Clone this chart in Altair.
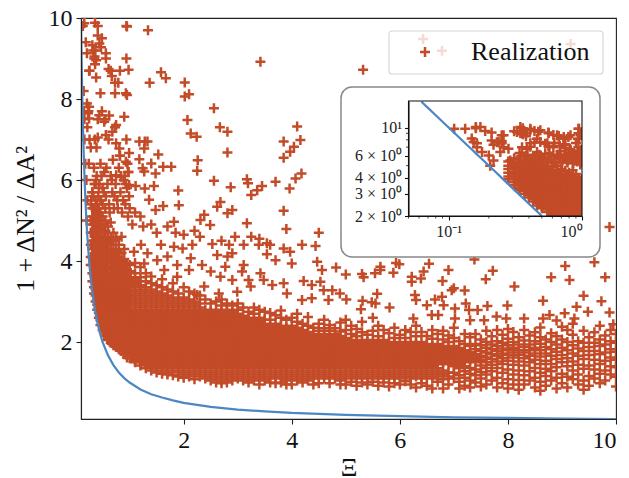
import altair as alt
import pandas as pd

ORANGE = "#C34B28"
BLUE = "#4C87C4"
FONT = "Liberation Serif"
PLUS = "M-1,0L1,0M0,-1L0,1"

curve_x = [0.0625, 0.07, 0.08, 0.09, 0.1, 0.11, 0.12, 0.13, 0.14, 0.15, 0.16, 0.18, 0.2, 0.22, 0.25, 0.28, 0.3, 0.35, 0.4, 0.45, 0.5, 0.6, 0.7, 0.8, 0.9, 1, 1.2, 1.4, 1.6, 1.8, 2, 2.5, 3, 3.5, 4, 5, 6, 7, 8, 9, 10]
curve_y = [16, 14.3, 12.5, 11.1, 10, 9.09, 8.33, 7.69, 7.14, 6.67, 6.25, 5.56, 5, 4.55, 4, 3.57, 3.33, 2.86, 2.5, 2.22, 2, 1.67, 1.43, 1.25, 1.11, 1, 0.83, 0.71, 0.63, 0.56, 0.5, 0.4, 0.33, 0.29, 0.25, 0.2, 0.17, 0.14, 0.13, 0.11, 0.1]

sparse_x = [.16,.36,.95,1.34,.41,.31,.44,.47,.56,.21,.35,.38,.36,.25,.61,.98,.67,.38,.79,1.37,1.58,1.67,2.02,2.02,2.10,3.42,.46,.73,.93,.95,.21,.25,.23,.44,.62,.90,2.56,2.07,2.67,2.81,4.10,2.13,2.24,3.85,4.16,4.04,3.97,3.85,2.81,.75,.53,.25,.68,.56,.41,.75,.81,.99,1.18,1.28,1.33,1.27,1.53,1.18,1.40,.93,1.24,1.62,1.77,2.26,2.25,1.48,1.27,.75,.84,.99,1.11,1.45,1.28,2.56,3.17,3.19,2.87,3.45,3.36,3.25,3.70,3.96,4.07,4.18,1.90,1.36,1.91,1.48,1.62,2.68,2.62,2.90,2.81,2.38,2.31,2.49,3.17,3.85,3.90,1.82,
5.32,6.43,6.78,9.16,9.88,
4.82,5.0,5.3,5.33,5.54,5.64,5.64,5.88,5.99,6.22,6.22,6.39,6.44,6.54,6.79,6.9,7.38,7.59,7.72,8.12,8.8,9.14,9.06,9.6,9.8,4.75,4.89,5.01,5.31,5.48,5.58,5.55,5.28,5.81,6.28,6.3,6.5,6.65,6.78,6.81,6.96,7.0,7.2,7.02,7.22,7.28,7.44,7.62,7.99,8.65,9.27,9.4,9.73,9.88,9.05,9.23,9.48,8.77,8.3,8.65,6.59,6.71,6.25,7.02,7.3,7.56,7.79,7.97,8.9,9.95,9.7,
4.19,4.44,4.47,4.56,4.0,3.85,3.97,3.7,3.54,3.39,3.54,3.11,2.84,2.9,2.53,2.62,2.81,2.77,3.11,3.08,3.42,3.48,2.5,2.34,2.13,2.1,1.88,1.7,1.82,1.98,2.16,1.58,1.33,1.27,1.08,1.21,1.51,1.64,1.88,2.68,2.9,3.2,3.24,3.64,3.85,3.91,2.99,4.22,4.37,4.53,4.59,4.19,4.37,4.68,2.65,2.38,2.25,
1.0,1.1,1.2,1.05,1.25,1.4,1.5,1.7,1.85,2.0,2.2,2.3,2.7,2.95,3.25,3.4,3.6,4.5,5.0,5.3,5.6,5.93,
.11,.133,.16,.173,.188,.149,.163,.154,.163,.178,.258,.237,.217,.258,.281,.244,.2,.217,.205,.345,.326,.345,.365,.41,.487,.562,.65,.73,.82,.94,.94,.355,.41,.487,.55,.46,.387,.61,.73,.94,.82,.97,
.29,.31,.33,.35,.37,.39,.42,.44,.47,.5,.53,.56,.59,.62,.65,.68,.71,.74,.77,.8,.83,.86,.89,.92,.95,.98,.34,.38,.43,.48,.52,.57,.63,.67,.72,.78,.84,.88,.93,.97,.99,.96,.91,.82,.69]
sparse_y = [9.87,9.88,9.79,9.70,9.57,9.33,9.37,9.28,9.13,9.13,9.05,8.96,8.86,8.70,8.74,8.72,8.57,8.53,8.40,8.40,8.66,8.51,8.41,8.06,8.12,8.92,8.14,8.14,8.14,8.10,7.89,7.81,7.65,7.60,7.59,7.56,7.77,7.48,7.30,7.19,7.32,7.15,7.07,6.95,6.99,6.82,6.70,6.55,6.68,7.36,7.44,7.52,7.19,7.11,7.05,6.91,6.78,6.67,6.95,6.95,6.95,6.78,6.63,6.51,6.41,6.45,6.29,6.33,6.33,6.49,6.23,6.16,6.21,6.12,6.08,5.88,5.85,5.85,5.79,5.98,6.02,5.92,5.82,5.85,5.75,5.63,5.96,5.79,6.04,6.16,5.74,5.51,5.38,5.26,5.36,5.46,5.34,5.26,5.18,5.14,5.01,4.89,4.93,5.24,4.79,4.97,
8.72,9.48,9.19,9.36,4.84,
3.84,3.67,3.68,3.60,3.70,3.86,3.78,3.71,3.92,3.61,3.49,3.57,3.74,3.93,3.51,3.78,4.04,3.55,3.76,3.37,3.6,3.53,3.88,3.97,3.6,3.28,3.2,3.05,3.02,2.98,3.19,2.95,2.81,2.85,3.16,3.04,2.91,3.05,3.12,2.91,3.28,3.33,3.27,2.83,2.95,2.79,2.79,2.89,2.9,3.02,2.87,3.14,3.01,2.73,2.71,2.58,2.75,2.67,2.58,2.58,2.67,2.67,2.58,2.58,2.54,2.54,2.63,2.58,2.53,2.44,2.4,
4.4,4.37,3.98,3.78,3.94,4.31,4.23,4.02,4.17,4.4,4.44,4.4,4.4,4.19,4.42,4.15,4.11,3.86,3.9,3.74,3.7,3.53,3.74,3.9,4.07,3.78,3.61,4.11,4.35,4.31,4.4,4.4,4.19,3.94,4.23,4.4,4.02,3.78,3.9,3.61,3.53,3.53,3.37,3.41,3.45,3.2,3.24,3.51,3.41,3.49,3.28,3.04,3.08,3.04,3.2,3.37,3.16,
5.3,5.2,5.1,4.9,4.85,4.9,4.7,4.85,4.7,4.65,4.75,4.6,4.5,4.6,4.6,4.55,4.4,4.7,4.65,4.45,4.5,3.95,
9.8,9.8,10.1,10.1,9.4,8.2,7.5,7.7,7.0,6.4,8.7,7.7,7.3,7.0,6.8,6.4,6.0,5.5,5.0,10.1,9.2,9.0,9.2,9.8,9.5,9.0,8.7,8.4,8.7,9.8,9.0,7.0,7.5,7.7,7.5,6.4,6.8,7.0,7.3,7.0,6.6,6.2,
5.5,5.7,5.6,5.9,5.5,6.1,5.6,5.9,5.5,5.8,6.2,5.6,5.9,5.4,6.1,5.7,5.3,5.9,5.5,6.3,5.7,5.2,6.0,5.4,5.8,6.2,6.3,6.0,5.8,6.1,5.7,6.3,5.2,6.0,5.6,5.3,6.1,5.5,5.9,5.1,5.6,6.4,6.1,6.6,6.5]

left_x = [.28, .31, .34, .37, .40, .43, .46, .50, .55, .60, .65, .70, .75, .80, .85, .90, .95]
left_y = [
 [3.9,4.1,4.4,4.7,5.0,5.4],
 [3.5,3.7,3.9,4.1,4.3,4.5,4.7,4.9,5.1,5.3,5.7],
 [3.2,3.35,3.5,3.65,3.8,3.95,4.1,4.3,4.5,4.7,4.9,5.1,5.3],
 [3.0,3.15,3.3,3.45,3.6,3.75,3.9,4.05,4.2,4.4,4.6,4.8,5.0,5.25,5.9],
 [2.8,2.92,3.05,3.18,3.3,3.43,3.55,3.7,3.85,4.0,4.15,4.3,4.45,4.6,4.8,5.0,5.2,5.4],
 [2.6,2.72,2.85,2.98,3.1,3.22,3.35,3.48,3.6,3.75,3.9,4.05,4.2,4.35,4.5,4.7,4.9,5.1,5.3],
 [2.42,2.54,2.66,2.78,2.9,3.02,3.14,3.26,3.4,3.55,3.7,3.85,4.0,4.15,4.3,4.45,4.6,4.8,5.0,5.2,5.5],
 [2.3,2.4,2.5,2.6,2.7,2.82,2.94,3.06,3.18,3.3,3.45,3.6,3.75,3.9,4.05,4.2,4.35,4.5,4.7,4.9,5.1,5.4],
 [2.15,2.25,2.35,2.45,2.55,2.65,2.75,2.85,2.95,3.05,3.15,3.25,3.35,3.45,3.55,3.65,3.8,3.95,4.1,4.25,4.4,4.55,4.75,5.0,5.3],
 [2.05,2.1,2.2,2.3,2.4,2.5,2.6,2.7,2.8,2.9,3.0,3.1,3.2,3.3,3.4,3.5,3.6,3.7,3.85,4.0,4.15,4.3,4.45,4.6,4.85],
 [1.98,2.05,2.15,2.25,2.35,2.45,2.55,2.65,2.75,2.85,2.95,3.05,3.15,3.25,3.35,3.45,3.55,3.65,3.8,3.95,4.1,4.25,4.4,4.55,4.95],
 [1.92,2.0,2.1,2.2,2.3,2.4,2.5,2.6,2.7,2.8,2.9,3.0,3.1,3.2,3.3,3.4,3.5,3.6,3.7,3.85,4.0,4.15,4.3,4.5,4.7],
 [1.88,1.95,2.05,2.15,2.25,2.35,2.45,2.55,2.65,2.75,2.85,2.95,3.05,3.15,3.25,3.35,3.45,3.55,3.65,3.8,3.95,4.1,4.25,4.55],
 [1.82,1.9,2.0,2.1,2.2,2.3,2.4,2.5,2.6,2.7,2.8,2.9,3.0,3.1,3.2,3.3,3.4,3.5,3.6,3.75,3.9,4.05,4.2,4.4],
 [1.78,1.85,1.95,2.05,2.15,2.25,2.35,2.45,2.55,2.65,2.75,2.85,2.95,3.05,3.15,3.25,3.35,3.45,3.55,3.7,3.85,4.0,4.2,4.6],
 [1.7,1.8,1.9,2.0,2.1,2.2,2.3,2.4,2.5,2.6,2.7,2.8,2.9,3.0,3.1,3.2,3.3,3.4,3.5,3.6,3.75,3.9,4.05,4.3],
 [1.62,1.75,1.85,1.95,2.05,2.15,2.25,2.35,2.45,2.55,2.65,2.75,2.85,2.95,3.05,3.15,3.25,3.35,3.45,3.55,3.66,3.8,3.95],
]

core_x = [1.0,1.1,1.2,1.3,1.4,1.5,1.6,1.7,1.8,1.9,2.0,2.1,2.2,2.3,2.4,2.5,2.6,2.7,2.8,2.9,3.0,3.1,3.2,3.3,3.4,3.5,3.6,3.7,3.8,3.9,4.0,4.1,4.2,4.3,4.4,4.5,4.6,4.7,4.8,4.9]
core_y = [
 [1.6,1.7,1.8,1.9,2.0,2.1,2.2,2.3,2.4,2.5,2.6,2.7,2.8,2.9,3.0,3.1,3.2,3.3,3.4,3.5,3.6,3.75,3.9],
 [1.5,1.55,1.65,1.75,1.85,1.95,2.05,2.15,2.25,2.35,2.45,2.55,2.65,2.75,2.85,2.95,3.05,3.15,3.25,3.35,3.45,3.55,3.7,3.95],
 [1.42,1.5,1.6,1.7,1.8,1.9,2.0,2.1,2.2,2.3,2.4,2.5,2.6,2.7,2.8,2.9,3.0,3.1,3.2,3.3,3.4,3.5,3.6,3.85],
 [1.35,1.45,1.55,1.65,1.75,1.85,1.95,2.05,2.15,2.25,2.35,2.45,2.55,2.65,2.75,2.85,2.95,3.05,3.15,3.25,3.35,3.5,3.7],
 [1.3,1.4,1.5,1.6,1.7,1.8,1.9,2.0,2.1,2.2,2.3,2.4,2.5,2.6,2.7,2.8,2.9,3.0,3.1,3.2,3.3,3.45,3.62],
 [1.25,1.35,1.45,1.55,1.65,1.75,1.85,1.95,2.05,2.15,2.25,2.35,2.45,2.55,2.65,2.75,2.85,2.95,3.05,3.15,3.25,3.4],
 [1.22,1.3,1.4,1.5,1.6,1.7,1.8,1.9,2.0,2.1,2.2,2.3,2.4,2.5,2.6,2.7,2.8,2.9,3.0,3.1,3.2,3.35,3.55],
 [1.2,1.25,1.35,1.45,1.55,1.65,1.75,1.85,1.95,2.05,2.15,2.25,2.35,2.45,2.55,2.65,2.75,2.85,2.95,3.05,3.15,3.3],
 [1.18,1.3,1.4,1.5,1.6,1.7,1.8,1.9,2.0,2.1,2.2,2.3,2.4,2.5,2.6,2.7,2.8,2.9,3.0,3.1,3.25,3.45],
 [1.15,1.25,1.35,1.45,1.55,1.65,1.75,1.85,1.95,2.05,2.15,2.25,2.35,2.45,2.55,2.65,2.75,2.85,2.95,3.05,3.2],
 [1.12,1.2,1.3,1.4,1.5,1.6,1.7,1.8,1.9,2.0,2.1,2.2,2.3,2.4,2.5,2.6,2.7,2.8,2.9,3.0,3.1,3.35],
 [1.15,1.25,1.35,1.45,1.55,1.65,1.75,1.85,1.95,2.05,2.15,2.25,2.35,2.45,2.55,2.65,2.75,2.85,2.95,3.05,3.25],
 [1.08,1.2,1.3,1.4,1.5,1.6,1.7,1.8,1.9,2.0,2.1,2.2,2.3,2.4,2.5,2.6,2.7,2.8,2.9,3.0,3.2],
 [1.15,1.25,1.35,1.45,1.55,1.65,1.75,1.85,1.95,2.05,2.15,2.25,2.35,2.45,2.55,2.65,2.75,2.85,2.95,3.15],
 [1.1,1.2,1.3,1.4,1.5,1.6,1.7,1.8,1.9,2.0,2.1,2.2,2.3,2.4,2.5,2.6,2.7,2.8,3.05],
 [1.05,1.15,1.25,1.35,1.45,1.55,1.65,1.75,1.85,1.95,2.05,2.15,2.25,2.35,2.45,2.55,2.65,2.75,2.95],
 [1.0,1.1,1.2,1.3,1.4,1.5,1.6,1.7,1.8,1.9,2.0,2.1,2.2,2.3,2.4,2.5,2.6,2.7,2.8,3.0],
 [0.98,1.05,1.15,1.25,1.35,1.45,1.55,1.65,1.75,1.85,1.95,2.05,2.15,2.25,2.35,2.45,2.55,2.65,2.75,2.9,3.05],
 [1.0,1.1,1.2,1.3,1.4,1.5,1.6,1.7,1.8,1.9,2.0,2.1,2.2,2.3,2.4,2.5,2.6,2.7,2.8,2.95],
 [1.05,1.15,1.25,1.35,1.45,1.55,1.65,1.75,1.85,1.95,2.05,2.15,2.25,2.35,2.45,2.55,2.65,2.75,2.9],
 [1.1,1.2,1.3,1.4,1.5,1.6,1.7,1.8,1.9,2.0,2.1,2.2,2.3,2.4,2.5,2.6,2.7,2.8,2.95],
 [1.05,1.15,1.25,1.35,1.45,1.55,1.65,1.75,1.85,1.95,2.05,2.15,2.25,2.35,2.45,2.55,2.65,2.85],
 [1.0,1.1,1.2,1.3,1.4,1.5,1.6,1.7,1.8,1.9,2.0,2.1,2.2,2.3,2.4,2.5,2.6,2.75],
 [1.05,1.15,1.25,1.35,1.45,1.55,1.65,1.75,1.85,1.95,2.05,2.15,2.25,2.35,2.45,2.55,2.7,2.85],
 [0.95,1.1,1.2,1.3,1.4,1.5,1.6,1.7,1.8,1.9,2.0,2.1,2.2,2.3,2.4,2.5,2.6,2.8],
 [1.05,1.15,1.25,1.35,1.45,1.55,1.65,1.75,1.85,1.95,2.05,2.15,2.25,2.35,2.45,2.55,2.75],
 [1.0,1.1,1.2,1.3,1.4,1.5,1.6,1.7,1.8,1.9,2.0,2.1,2.2,2.3,2.4,2.55,2.72],
 [0.98,1.15,1.25,1.35,1.45,1.55,1.65,1.75,1.85,1.95,2.05,2.15,2.25,2.35,2.45,2.66],
 [1.0,1.1,1.2,1.3,1.4,1.5,1.6,1.7,1.8,1.9,2.0,2.1,2.2,2.3,2.4,2.6,2.78],
 [0.95,1.05,1.15,1.25,1.35,1.45,1.55,1.65,1.75,1.85,1.95,2.05,2.15,2.25,2.35,2.55],
 [0.95,1.1,1.2,1.3,1.4,1.5,1.6,1.7,1.8,1.9,2.0,2.1,2.2,2.3,2.4,2.6],
 [1.05,1.15,1.25,1.35,1.45,1.55,1.65,1.75,1.85,1.95,2.05,2.15,2.25,2.35,2.5,2.7],
 [1.0,1.1,1.2,1.3,1.4,1.5,1.6,1.7,1.8,1.9,2.0,2.1,2.2,2.3,2.45],
 [1.05,1.15,1.25,1.35,1.45,1.55,1.65,1.75,1.85,1.95,2.05,2.15,2.25,2.4,2.62],
 [0.95,1.1,1.2,1.3,1.4,1.5,1.6,1.7,1.8,1.9,2.0,2.1,2.2,2.35],
 [0.98,1.15,1.25,1.35,1.45,1.55,1.65,1.75,1.85,1.95,2.05,2.15,2.28,2.45],
 [1.1,1.2,1.3,1.4,1.5,1.6,1.7,1.8,1.9,2.0,2.1,2.2,2.34,2.55],
 [0.98,1.15,1.25,1.35,1.45,1.55,1.65,1.75,1.85,1.95,2.05,2.15,2.28,2.42],
 [1.1,1.2,1.3,1.4,1.5,1.6,1.7,1.8,1.9,2.0,2.1,2.2,2.34],
 [0.95,1.05,1.15,1.25,1.35,1.45,1.55,1.65,1.75,1.85,1.95,2.05,2.15,2.26,2.48],
]

tail_x = [5.0,5.1,5.2,5.3,5.4,5.5,5.6,5.7,5.8,5.9,6.0,6.1,6.2,6.3,6.4,6.5,6.6,6.7,6.8,6.9,7.0,7.1,7.2,7.3,7.4,7.5,7.6,7.7,7.8,7.9,8.0,8.1,8.2,8.3,8.4,8.5,8.6,8.7,8.8,8.9,9.0,9.1,9.2,9.3,9.4,9.5,9.6,9.7,9.8,9.9,10.0]
tail_y = [
 [0.95,1.1,1.2,1.3,1.4,1.5,1.6,1.7,1.8,1.9,2.0,2.1,2.3,2.55],
 [1.02,1.15,1.25,1.35,1.45,1.55,1.65,1.75,1.85,1.95,2.05,2.2,2.4],
 [0.92,1.1,1.2,1.3,1.4,1.5,1.6,1.7,1.8,1.9,2.0,2.14,2.32],
 [1.0,1.15,1.25,1.35,1.45,1.55,1.65,1.75,1.85,1.95,2.05,2.24,2.5],
 [0.95,1.1,1.2,1.3,1.4,1.5,1.6,1.7,1.8,1.9,2.0,2.18],
 [1.02,1.15,1.25,1.35,1.45,1.55,1.65,1.75,1.85,1.95,2.05,2.28,2.6],
 [0.92,1.1,1.2,1.3,1.4,1.5,1.6,1.7,1.8,1.9,2.0,2.14,2.4],
 [1.0,1.15,1.25,1.35,1.45,1.55,1.65,1.75,1.85,1.95,2.05,2.3],
 [0.9,1.1,1.2,1.3,1.4,1.5,1.6,1.7,1.8,1.9,2.0,2.22],
 [0.98,1.15,1.25,1.35,1.45,1.55,1.65,1.75,1.85,1.95,2.1,2.35],
 [0.95,1.1,1.2,1.3,1.4,1.5,1.6,1.7,1.8,1.9,2.0,2.18],
 [1.03,1.15,1.25,1.35,1.45,1.55,1.65,1.75,1.85,1.95,2.1,2.3],
 [0.95,1.1,1.2,1.3,1.4,1.5,1.6,1.7,1.8,1.9,2.0,2.25],
 [0.88,1.15,1.25,1.35,1.45,1.55,1.65,1.75,1.85,1.95,2.14,2.4],
 [0.98,1.1,1.2,1.3,1.4,1.5,1.6,1.7,1.8,1.9,2.0,2.25],
 [0.92,1.15,1.25,1.35,1.45,1.55,1.65,1.75,1.85,1.95,2.15],
 [0.85,1.1,1.2,1.3,1.4,1.5,1.6,1.7,1.8,1.9,2.08,2.3],
 [1.02,1.15,1.25,1.35,1.45,1.55,1.65,1.75,1.85,1.95,2.2],
 [0.85,1.08,1.2,1.3,1.5,1.6,1.7,1.8,1.9,2.06,2.28],
 [0.95,1.15,1.25,1.45,1.55,1.65,1.75,1.85,2.0,2.16],
 [1.1,1.24,1.4,1.5,1.6,1.7,1.8,1.9,2.1,2.35],
 [0.85,1.02,1.18,1.35,1.45,1.55,1.65,1.75,1.85,2.02],
 [0.92,1.12,1.28,1.4,1.5,1.6,1.7,1.8,1.95,2.2],
 [0.88,1.05,1.22,1.36,1.55,1.65,1.75,1.9,2.12],
 [1.0,1.18,1.32,1.5,1.6,1.7,1.82,1.95,2.2],
 [0.9,1.1,1.26,1.42,1.55,1.66,1.78,1.92,2.06],
 [0.95,1.2,1.36,1.5,1.62,1.74,1.86,2.0,2.28],
 [1.05,1.28,1.44,1.58,1.7,1.82,1.94,2.14],
 [0.88,1.12,1.36,1.52,1.66,1.78,1.9,2.02,2.3],
 [0.98,1.24,1.46,1.6,1.72,1.84,1.98,2.18],
 [0.85,1.08,1.32,1.54,1.68,1.8,1.92,2.08,2.32],
 [0.95,1.2,1.44,1.62,1.74,1.86,2.0,2.25],
 [0.82,1.06,1.3,1.52,1.68,1.8,1.94,2.12],
 [0.95,1.18,1.42,1.6,1.74,1.88,2.04,2.3],
 [1.05,1.28,1.5,1.66,1.8,1.94,2.16],
 [0.88,1.12,1.36,1.56,1.72,1.86,2.02,2.24],
 [0.8,1.02,1.24,1.46,1.64,1.8,1.96,2.12,2.36],
 [0.92,1.16,1.34,1.54,1.72,1.88,2.06],
 [1.05,1.28,1.46,1.66,1.82,2.0,2.22],
 [0.85,1.12,1.38,1.58,1.76,1.94,2.14],
 [0.98,1.22,1.5,1.68,1.86,2.06,2.38],
 [0.88,1.14,1.4,1.6,1.8,2.0,2.3],
 [1.08,1.3,1.52,1.72,1.92,2.18,2.45],
 [0.95,1.2,1.44,1.66,1.84,2.02],
 [0.82,1.05,1.34,1.58,1.78,1.98,2.28],
 [0.92,1.16,1.42,1.68,1.88,2.12],
 [1.1,1.32,1.56,1.78,1.98,2.24],
 [0.98,1.22,1.46,1.7,1.9,2.06],
 [1.05,1.3,1.54,1.74,1.94,2.16],
 [1.2,1.4,1.62,1.82,2.02,2.3],
 [0.9,1.14,1.38,1.56,1.76,1.98,2.2],
]

inset_y_minor = [5, 7, 8, 9]
inset_x_minor = [0.05, 0.06, 0.07, 0.08, 0.09, 0.2, 0.3, 0.4, 0.5, 0.6, 0.7, 0.8, 0.9]

rows = list(zip(sparse_x, sparse_y))
for xs, ys in ((left_x, left_y), (core_x, core_y), (tail_x, tail_y)):
    for cx, col in zip(xs, ys):
        rows += [(cx, v) for v in col]
pts = pd.DataFrame(rows, columns=["x", "y"])
curve = pd.DataFrame({"x": curve_x, "y": curve_y})

W, H = 535, 401
ax_common = dict(labelFont=FONT, titleFont=FONT, labelFontSize=24, titleFontSize=26,
                 titleFontWeight="normal", labelColor="#111", titleColor="#111",
                 domainColor="#222", tickColor="#222", domainWidth=1.1, tickWidth=1.1,
                 tickSize=5, labelPadding=4, grid=False, zindex=1)
mx = alt.Scale(domain=[0.1, 10], nice=False, zero=False)
my = alt.Scale(domain=[0.1, 10], nice=False, zero=False)
xax = alt.Axis(values=[2, 4, 6, 8, 10], format="d", title="Ξ", titlePadding=2, **ax_common)
yax = alt.Axis(values=[2, 4, 6, 8, 10], format="d", title="1 + ΔN² / ΔA²", titlePadding=10, **ax_common)

main_pts = alt.Chart(pts).mark_point(shape=PLUS, size=100, filled=False, strokeWidth=2.5, color=ORANGE, opacity=1, clip=True).encode(
    x=alt.X("x:Q", scale=mx, axis=xax), y=alt.Y("y:Q", scale=my, axis=yax))
main_line = alt.Chart(curve).mark_line(color=BLUE, strokeWidth=2.2, clip=True).encode(
    x=alt.X("x:Q", scale=mx, axis=xax), y=alt.Y("y:Q", scale=my, axis=yax))
main = alt.layer(main_pts, main_line)

one = pd.DataFrame({"a": [0]})
legend_box = alt.Chart(one).mark_rect(fill="white", fillOpacity=0.8, stroke="#d5d5d5", strokeWidth=1.1, cornerRadius=3).encode(
    x=alt.value(308), x2=alt.value(522), y=alt.value(13), y2=alt.value(56))
legend_mark = alt.Chart(one).mark_point(shape=PLUS, size=100, filled=False, strokeWidth=2.5, color=ORANGE, opacity=1).encode(
    x=alt.value(344), y=alt.value(34))
legend_text = alt.Chart(pd.DataFrame({"t": ["Realization"]})).mark_text(font=FONT, fontSize=26, align="left", baseline="middle", color="#111").encode(
    x=alt.value(390), y=alt.value(34), text="t:N")
inset_box = alt.Chart(one).mark_rect(fill="white", stroke="#888888", strokeWidth=1.5, cornerRadius=11).encode(
    x=alt.value(260), x2=alt.value(519), y=alt.value(69), y2=alt.value(239))

L, R, T, B = 327.5, 501, 83, 198
ix = alt.Scale(type="log", domain=[0.05, 1], range=[L, R], nice=False)
iy = alt.Scale(type="log", domain=[2, 16.2], range=[B, T], nice=False)
small = dict(labelFont=FONT, labelFontSize=16, labelColor="#222", domainColor="#111", tickColor="#111",
             domainWidth=1.1, tickWidth=1.1, tickSize=4, labelPadding=3, grid=False, title=None, zindex=1, labelOverlap=False)
ixax = alt.Axis(values=[0.1, 1], orient="bottom", offset=B - H, labelExpr="datum.value==1?'10⁰':'10⁻¹'", **small)
iyax = alt.Axis(values=[2, 3, 4, 6, 10], orient="left", offset=-L, labelExpr="datum.value==10?'10¹':datum.value+' × 10⁰'", **small)

in_pts = alt.Chart(pts).transform_filter("datum.x>=0.05 && datum.x<=1 && datum.y>=2 && datum.y<=16.2").mark_point(
    shape=PLUS, size=100, filled=False, strokeWidth=2.5, color=ORANGE, opacity=1).encode(
    x=alt.X("x:Q", scale=ix, axis=ixax), y=alt.Y("y:Q", scale=iy, axis=iyax))
in_line = alt.Chart(curve).transform_filter("datum.y>=2 && datum.y<=16.2").mark_line(color=BLUE, strokeWidth=2.2).encode(
    x=alt.X("x:Q", scale=ix, axis=ixax), y=alt.Y("y:Q", scale=iy, axis=iyax))
strip_r = alt.Chart(one).mark_rect(fill="white").encode(x=alt.value(R), x2=alt.value(R + 7), y=alt.value(T - 6), y2=alt.value(B + 7))
strip_b = alt.Chart(one).mark_rect(fill="white").encode(x=alt.value(L - 7), x2=alt.value(R + 7), y=alt.value(B), y2=alt.value(B + 7))
strip_l = alt.Chart(one).mark_rect(fill="white").encode(x=alt.value(L - 7), x2=alt.value(L), y=alt.value(T - 6), y2=alt.value(B + 7))
strip_t = alt.Chart(one).mark_rect(fill="white").encode(x=alt.value(L - 7), x2=alt.value(R + 7), y=alt.value(T - 6), y2=alt.value(T))
frame = alt.Chart(one).mark_rect(fill=None, stroke="#111", strokeWidth=1.1).encode(
    x=alt.value(L), x2=alt.value(R), y=alt.value(T), y2=alt.value(B))
minor_x = alt.Chart(pd.DataFrame({"x": inset_x_minor})).mark_rule(color="#111", strokeWidth=0.8).encode(
    x=alt.X("x:Q", scale=ix, axis=ixax), y=alt.value(B), y2=alt.value(B + 2.5))
minor_y = alt.Chart(pd.DataFrame({"y": inset_y_minor})).mark_rule(color="#111", strokeWidth=0.8).encode(
    y=alt.Y("y:Q", scale=iy, axis=iyax), x=alt.value(L - 2.5), x2=alt.value(L))
inset = alt.layer(in_pts, in_line, strip_r, strip_b, strip_l, strip_t, frame, minor_x, minor_y)

chart = alt.layer(main, legend_box, legend_mark, legend_text, inset_box, inset).resolve_scale(
    x="independent", y="independent"
).properties(
    width=W, height=H,
    padding={"left": 73, "top": 10, "right": 5, "bottom": 60},
    autosize=alt.AutoSizeParams(type="none"),
).configure_view(stroke="#222", strokeWidth=1.1)

chart.save("out.html", embed_options={"renderer": "svg", "actions": False})
